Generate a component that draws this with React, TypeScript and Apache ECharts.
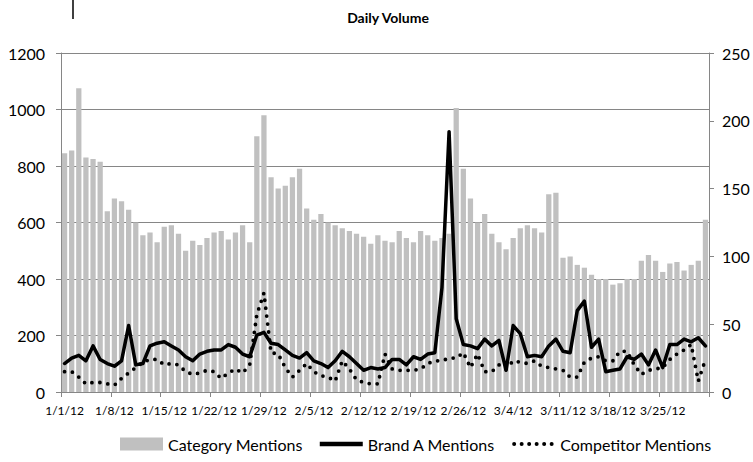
import React, { useEffect, useRef } from "react";
import * as echarts from "echarts";

const categories = [
  "1/1/12","1/2/12","1/3/12","1/4/12","1/5/12","1/6/12","1/7/12","1/8/12","1/9/12","1/10/12",
  "1/11/12","1/12/12","1/13/12","1/14/12","1/15/12","1/16/12","1/17/12","1/18/12","1/19/12","1/20/12",
  "1/21/12","1/22/12","1/23/12","1/24/12","1/25/12","1/26/12","1/27/12","1/28/12","1/29/12","1/30/12",
  "1/31/12","2/1/12","2/2/12","2/3/12","2/4/12","2/5/12","2/6/12","2/7/12","2/8/12","2/9/12",
  "2/10/12","2/11/12","2/12/12","2/13/12","2/14/12","2/15/12","2/16/12","2/17/12","2/18/12","2/19/12",
  "2/20/12","2/21/12","2/22/12","2/23/12","2/24/12","2/25/12","2/26/12","2/27/12","2/28/12","2/29/12",
  "3/1/12","3/2/12","3/3/12","3/4/12","3/5/12","3/6/12","3/7/12","3/8/12","3/9/12","3/10/12",
  "3/11/12","3/12/12","3/13/12","3/14/12","3/15/12","3/16/12","3/17/12","3/18/12","3/19/12","3/20/12",
  "3/21/12","3/22/12","3/23/12","3/24/12","3/25/12","3/26/12","3/27/12","3/28/12","3/29/12","3/30/12",
  "3/31/12"
];

const categoryMentions = [
  845, 855, 1075, 830, 825, 815, 640, 685, 675, 645,
  600, 555, 565, 530, 585, 590, 560, 500, 535, 520,
  545, 565, 570, 540, 565, 590, 530, 905, 980, 760,
  720, 730, 760, 790, 650, 610, 630, 600, 590, 580,
  570, 560, 550, 525, 555, 535, 530, 570, 545, 530,
  570, 555, 535, 545, 560, 1005, 790, 685, 600, 630,
  560, 530, 505, 545, 580, 590, 580, 565, 700, 705,
  475, 480, 450, 440, 415, 400, 400, 380, 385, 400,
  400, 465, 485, 465, 425, 455, 460, 430, 450, 465,
  610
];

const brandAMentions = [
  21, 25, 27, 23, 34, 24, 21, 19, 23, 49,
  20, 21, 34, 36, 37, 34, 31, 26, 23, 28,
  30, 31, 31, 35, 33, 28, 26, 42, 44, 36,
  35, 31, 27, 25, 29, 23, 21, 18, 23, 30,
  26, 21, 16, 18, 17, 18, 24, 24, 20, 26,
  24, 28, 29, 77, 192, 54, 35, 34, 32, 39,
  34, 38, 16, 49, 43, 26, 27, 26, 34, 39,
  30, 29, 60, 67, 33, 39, 15, 16, 17, 26,
  24, 28, 20, 31, 18, 35, 35, 39, 37, 40,
  34
];

const competitorMentions = [
  15, 15, 11, 6, 7, 7, 6, 5, 10, 14,
  18, 22, 24, 24, 20, 21, 20, 15, 13, 14,
  16, 15, 10, 14, 17, 14, 20, 57, 73, 29,
  28, 18, 11, 16, 21, 15, 12, 11, 8, 23,
  17, 9, 7, 6, 6, 28, 17, 16, 16, 16,
  17, 21, 23, 23, 25, 25, 29, 18, 28, 15,
  15, 20, 17, 23, 22, 21, 23, 19, 18, 17,
  16, 11, 11, 22, 25, 26, 23, 23, 30, 30,
  20, 13, 16, 17, 18, 24, 28, 31, 35, 8,
  24
];

const leftTicks = { min: 0, max: 1200, interval: 200 };
const rightTicks = { min: 0, max: 250, interval: 50 };

const FONT = "Lato, 'Open Sans', sans-serif";
const AXIS_GRAY = "#868686";

// legend icon shapes (drawn as filled paths, scaled by the legend)
const SOLID_ICON = "path://M0,0 L43,0 L43,4.5 L0,4.5 Z";
const DOT_ICON =
  "path://" +
  [2, 9.5, 17, 24.5, 32, 39.5]
    .map((cx) => `M${cx - 2},2 A2,2 0 1,0 ${cx + 2},2 A2,2 0 1,0 ${cx - 2},2 Z`)
    .join(" ") +
  " M43,2 L43,2.01";

export default function App() {
  const ref = useRef<HTMLDivElement>(null);
  useEffect(() => {
    if (!ref.current) return;
    const chart = echarts.init(ref.current, null, { renderer: "svg" });
    chart.setOption({
      animation: false,
      backgroundColor: "#ffffff",
      textStyle: { fontFamily: FONT },
      title: {
        text: "Daily Volume",
        left: 383,
        top: 5,
        textAlign: "center",
        textStyle: { fontFamily: FONT, fontSize: 14, fontWeight: "bold", color: "#000" },
      },
      graphic: [
        {
          type: "line",
          shape: { x1: 73, y1: 0, x2: 73, y2: 19 },
          style: { stroke: "#000", lineWidth: 1.5 },
        },
      ],
      grid: { left: 61, right: 44, top: 53, bottom: 70, containLabel: false },
      legend: {
        left: 115,
        top: 431,
        itemWidth: 43,
        itemHeight: 13,
        itemGap: 17,
        symbolKeepAspect: true,
        textStyle: { fontFamily: FONT, fontSize: 16, color: "#000" },
        data: [
          { name: "Category Mentions", icon: "rect", itemStyle: { color: "#c0c0c0" } },
          { name: "Brand A Mentions", icon: SOLID_ICON, itemStyle: { color: "#000", borderWidth: 0 } },
          { name: "Competitor Mentions", icon: DOT_ICON, itemStyle: { color: "#000", borderWidth: 0 } },
        ],
      },
      xAxis: {
        type: "category",
        data: categories,
        boundaryGap: true,
        axisLine: { show: true, lineStyle: { color: AXIS_GRAY, width: 1 } },
        axisTick: { show: true, interval: 6, length: 5, lineStyle: { color: AXIS_GRAY } },
        axisLabel: { interval: 6, fontSize: 12, color: "#000", margin: 12, fontFamily: FONT },
        splitLine: { show: false },
      },
      yAxis: [
        {
          type: "value",
          min: leftTicks.min,
          max: leftTicks.max,
          interval: leftTicks.interval,
          axisLine: { show: true, lineStyle: { color: AXIS_GRAY } },
          axisTick: { show: true, length: 5, lineStyle: { color: AXIS_GRAY } },
          axisLabel: {
            fontSize: 16,
            color: "#000",
            margin: 16,
            fontFamily: FONT,
            formatter: (v: number) => String(v),
          },
          splitLine: { show: true, lineStyle: { color: AXIS_GRAY, width: 1 } },
        },
        {
          type: "value",
          min: rightTicks.min,
          max: rightTicks.max,
          interval: rightTicks.interval,
          position: "right",
          axisLine: { show: true, lineStyle: { color: AXIS_GRAY } },
          axisTick: { show: true, length: 5, lineStyle: { color: AXIS_GRAY } },
          axisLabel: {
            fontSize: 16,
            color: "#000",
            margin: 13,
            fontFamily: FONT,
            formatter: (v: number) => String(v),
          },
          splitLine: { show: false },
        },
      ],
      series: [
        {
          name: "Category Mentions",
          type: "bar",
          data: categoryMentions,
          yAxisIndex: 0,
          barCategoryGap: "26%",
          itemStyle: { color: "#c0c0c0" },
        },
        {
          name: "Brand A Mentions",
          type: "line",
          data: brandAMentions,
          yAxisIndex: 1,
          symbol: "none",
          itemStyle: { color: "#000" },
          lineStyle: { color: "#000", width: 3.5, join: "round", cap: "round" },
        },
        {
          name: "Competitor Mentions",
          type: "line",
          data: competitorMentions,
          yAxisIndex: 1,
          symbol: "none",
          itemStyle: { color: "#000" },
          lineStyle: { color: "#000", width: 3.8, type: [0, 8], cap: "round", join: "round" },
        },
      ],
    });
    return () => chart.dispose();
  }, []);
  return (
    <div
      ref={ref}
      style={{ position: "fixed", left: 0, top: 0, width: 753, height: 462, background: "#fff" }}
    />
  );
}
